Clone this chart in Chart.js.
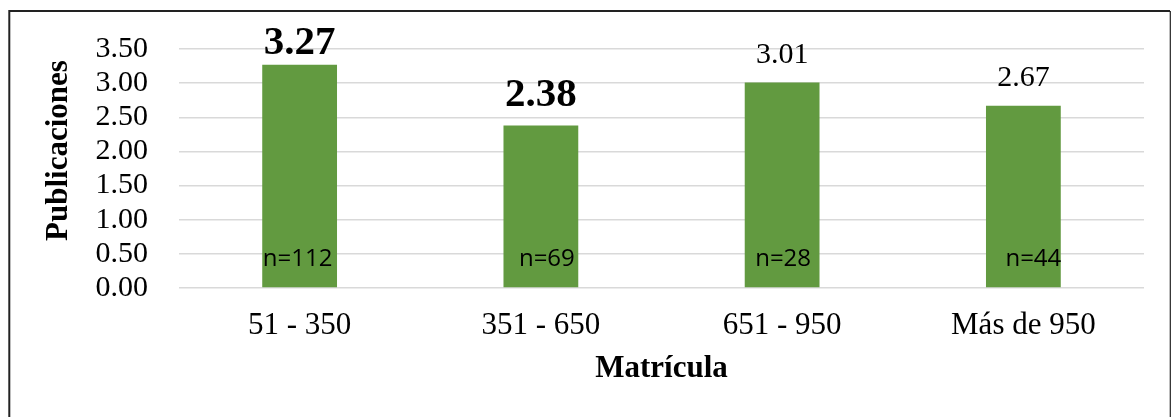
<!DOCTYPE html>
<html>
<head>
<meta charset="utf-8">
<script src="https://cdn.jsdelivr.net/npm/chart.js@4.4.1/dist/chart.umd.min.js"></script>
<style>
  html, body { margin: 0; padding: 0; background: #fff; }
  canvas { display: block; }
</style>
</head>
<body>
<canvas id="grafico" width="1173" height="417"></canvas>
<script>
// Publicaciones promedio por rango de matrícula
const categories = ['51 - 350', '351 - 650', '651 - 950', 'Más de 950'];
const publicaciones = [3.27, 2.38, 3.01, 2.67];
const muestras = [112, 69, 28, 44];
const yTicks = [0, 0.5, 1, 1.5, 2, 2.5, 3, 3.5];

const serif = "'Liberation Serif', 'Times New Roman', serif";
const sans = "'Open Sans', 'Noto Sans', sans-serif";

// Frame, value labels, sample sizes and the vertical axis title
const decor = {
  id: 'decor',
  beforeDraw(chart) {
    const ctx = chart.ctx;
    ctx.save();
    ctx.fillStyle = '#fff';
    ctx.fillRect(0, 0, chart.width, chart.height);
    ctx.restore();
  },
  afterDraw(chart, args, opts) {
    const { ctx, chartArea } = chart;
    const meta = chart.getDatasetMeta(0);
    const y0 = chart.scales.y.getPixelForValue(0);
    ctx.save();

    // outer frame
    ctx.strokeStyle = '#222';
    ctx.lineWidth = 2;
    ctx.beginPath();
    ctx.moveTo(9.3, chart.height);
    ctx.lineTo(9.3, 11);
    ctx.lineTo(1170, 11);
    ctx.stroke();
    ctx.lineWidth = 1.2;
    ctx.beginPath();
    ctx.moveTo(1170.3, 11);
    ctx.lineTo(1170.3, chart.height);
    ctx.stroke();

    ctx.fillStyle = '#000';
    ctx.textAlign = 'center';
    ctx.textBaseline = 'alphabetic';

    meta.data.forEach((bar, i) => {
      // value above the bar
      const bold = opts.bold.includes(i);
      ctx.font = bold ? `bold 41px ${serif}` : `30px ${serif}`;
      let y = bar.y - opts.valueGap;
      y = Math.max(y, chartArea.top + opts.minBaseline);
      ctx.fillText(publicaciones[i].toFixed(2), bar.x, y);

      // sample size inside the bar
      ctx.font = `24px ${sans}`;
      ctx.fillText('n=' + muestras[i], bar.x + opts.nShift[i], y0 - opts.nRise);
    });

    // vertical axis title
    ctx.font = `bold 31px ${serif}`;
    ctx.translate(67, (chartArea.top + chartArea.bottom) / 2 - 18);
    ctx.rotate(-Math.PI / 2);
    ctx.fillText('Publicaciones', 0, 0);
    ctx.restore();
  }
};

new Chart(document.getElementById('grafico'), {
  type: 'bar',
  data: {
    labels: categories,
    datasets: [{
      data: publicaciones,
      backgroundColor: '#629A40',
      borderWidth: 0,
      barPercentage: 0.31,
      categoryPercentage: 1
    }]
  },
  options: {
    responsive: false,
    animation: false,
    layout: { padding: { top: 49, right: 29, left: 0, bottom: 0 } },
    plugins: {
      legend: { display: false },
      tooltip: { enabled: false },
      decor: {
        bold: [0, 1],
        valueGap: 19.5,
        minBaseline: 5,
        nRise: 22.5,
        nShift: [-2, 6, 1, 10]
      }
    },
    scales: {
      x: {
        grid: { display: false, drawTicks: false },
        border: { display: false },
        ticks: {
          padding: 19,
          autoSkip: false,
          maxRotation: 0,
          color: '#000',
          font: { family: serif, size: 31 }
        },
        title: {
          display: true,
          text: 'Matrícula',
          color: '#000',
          font: { family: serif, size: 31, weight: 'bold' },
          padding: { top: 0, bottom: 29 }
        },
        afterFit(scale) { scale.height = 129; }
      },
      y: {
        min: 0,
        max: 3.5,
        grid: { color: '#d9d9d9', lineWidth: 1.5, drawTicks: false },
        border: { display: false },
        ticks: {
          padding: 31,
          autoSkip: false,
          color: '#000',
          font: { family: serif, size: 30 },
          callback: v => Number(v).toFixed(2)
        },
        afterBuildTicks(scale) { scale.ticks = yTicks.map(v => ({ value: v })); },
        afterFit(scale) { scale.width = 179; }
      }
    }
  },
  plugins: [decor]
});
</script>
</body>
</html>
